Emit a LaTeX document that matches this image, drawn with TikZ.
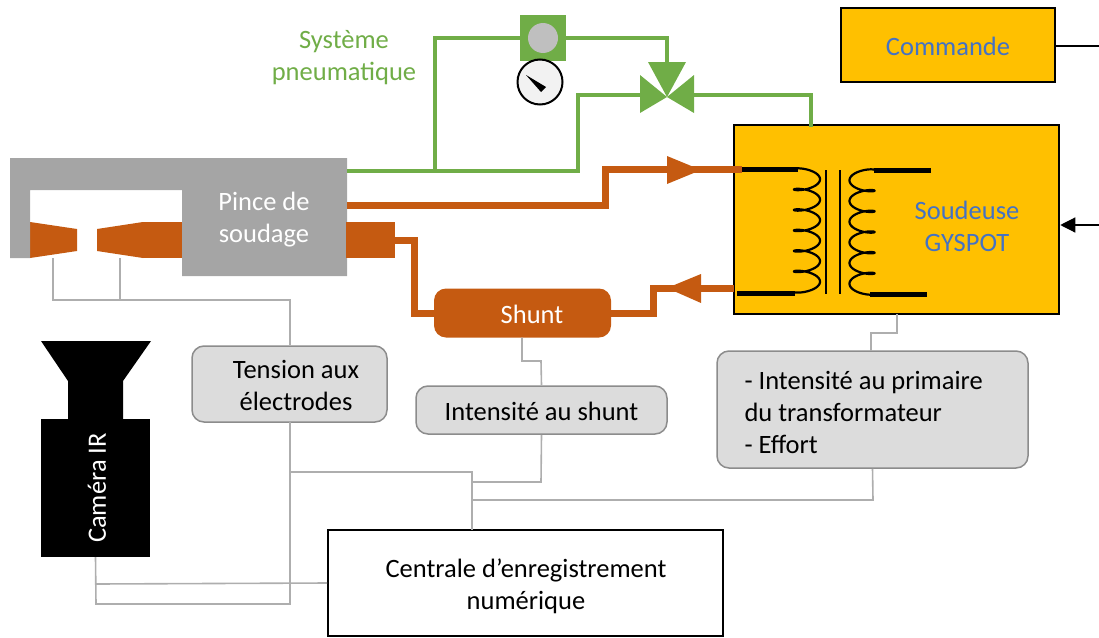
\documentclass[tikz,border=0pt]{standalone}
\usepackage{fontspec}
\setmainfont{Carlito}
\usetikzlibrary{arrows.meta}
\definecolor{gold}{HTML}{FFC000}
\definecolor{rust}{HTML}{C55A11}
\definecolor{leaf}{HTML}{70AD47}
\definecolor{steel}{HTML}{A5A5A5}
\definecolor{txtblue}{HTML}{4472C4}
\definecolor{wire}{HTML}{AEAEAE}
\definecolor{boxgray}{HTML}{DCDCDC}
\definecolor{boxedge}{HTML}{8C8C8C}
\definecolor{dial}{HTML}{F2F2F2}
\definecolor{knob}{HTML}{BFBFBF}
\tikzset{
  goldbox/.style={draw=black, line width=2.5, fill=gold, inner sep=0},
  infobox/.style={draw=boxedge, line width=1.5, fill=boxgray, rounded corners=12, inner sep=0},
  plainbox/.style={draw=black, line width=2, fill=white, inner sep=0},
  wire/.style={draw=wire, line width=1.6},
  pipe/.style={draw=leaf, line width=4},
  current/.style={draw=rust, line width=7},
  lead/.style={draw=black, line width=5},
  coilwire/.style={draw=black, line width=2.2},
}
\begin{document}
\begin{tikzpicture}[x=1pt, y=-1pt, font=\fontsize{26.5}{32}\selectfont]
\useasboundingbox (0,0) rectangle (1099,637);

% ---------- control and welder ----------
\node[goldbox, minimum width=214, minimum height=74] (cmd) at (948,45) {};
\node[text=txtblue] (cmdlbl) at (948,46) {Commande};
\coordinate (cmdout) at (1099,46);
\draw[black, line width=1.2] (cmd.east |- cmdout) -- (cmdout);

\node[goldbox, minimum width=325, minimum height=189] (weld) at (896.5,219.5) {};
\node[text=txtblue, align=center] (weldlbl) at (967,226) {Soudeuse\\GYSPOT};
\coordinate (ctrlin) at (1099,225);
\draw[black, line width=1.2, -{Triangle[length=15,width=15]}] (ctrlin) -- (weld.east |- ctrlin);

% transformer: leads, looped windings and core
\draw[lead] (741,169) -- (798,169);
\draw[lead] (737,293) -- (795,293);
\draw[lead] (874,170) -- (931,170);
\draw[lead] (870,294) -- (927,294);
\draw[coilwire] plot[domain=0:37.699, samples=360, smooth]
  ({807-13*cos(\x r)}, {169+3.26*\x-4.6*sin(\x r)});
\draw[coilwire] plot[domain=0:37.699, samples=360, smooth]
  ({862+12.5*cos(\x r)}, {170+3.29*\x-4.6*sin(\x r)});
\draw[black, line width=2.5] (826,170) -- (826,294);
\draw[black, line width=2.5] (840,170) -- (840,294);

% ---------- welding gun ----------
\fill[rust] (30,222) -- (77,229) -- (77,251) -- (30,258) -- cycle;
\fill[rust] (97,229) -- (143,222) -- (143,258) -- (97,251) -- cycle;
\fill[rust] (143,222) rectangle (183,258);
\fill[steel] (10,158) -- (347,158) -- (347,276) -- (182,276) -- (182,190)
  -- (30,190) -- (30,258) -- (10,258) -- cycle;
\node[text=white, align=center] (pince) at (264,220) {Pince de\\soudage};
\node[fill=rust, minimum width=49, minimum height=36, inner sep=0] (term) at (370.5,240) {};
\coordinate (elecL) at (53,258);
\coordinate (elecR) at (120,258);
\coordinate (pinceAir) at (347,171);
\coordinate (pinceOut) at (347,205);

% ---------- current loop ----------
\node[fill=rust, rounded corners=12, minimum width=177, minimum height=49, inner sep=0] (shunt) at (522.5,313) {};
\node[text=white] (shuntlbl) at (532,314) {Shunt};
\draw[current] (pinceOut) -- (605,205) -- (605,169) -- (742,169);
\fill[rust] (667,156) -- (701,170) -- (667,184) -- cycle;
\draw[current] (734,288) -- (653,288) -- (653,313) -- (shunt.east);
\fill[rust] (701,274) -- (667,288) -- (701,303) -- cycle;
\draw[current] (term.east) -- (414,240) -- (414,313) -- (shunt.west);

% ---------- pneumatic circuit ----------
\node[text=leaf, align=center] (pneu) at (344,58) {Système\\pneumatique};
\node[fill=leaf, minimum size=46, inner sep=0] (reg) at (543,38) {};
\node[circle, fill=knob, minimum size=30, inner sep=0] (regdot) at (543,38) {};
\node[circle, draw=black, line width=2, fill=dial, minimum size=45, inner sep=0] (gauge) at (540,82) {};
\fill[black] (526,75) -- (546,87) -- (541,92) -- cycle;
\coordinate (valve) at (667,97);
\fill[leaf] (640,75) -- (valve) -- (640,113) -- cycle;
\fill[leaf] (694,75) -- (valve) -- (694,113) -- cycle;
\fill[leaf] (648,62) -- (686,62) -- (valve) -- cycle;
\draw[pipe] (pinceAir) -- (578,171) -- (578,95) -- (641,95);
\draw[pipe] (435,171) -- (435,38) -- (reg.west);
\draw[pipe] (reg.east) -- (667,38) -- (667,64);
\draw[pipe] (693,95) -- (811,95) -- (811,127);

% ---------- measurement boxes ----------
\node[infobox, minimum width=195, minimum height=76] (tension) at (289.5,384) {};
\node[align=center] (tensionlbl) at (296,385) {Tension aux\\électrodes};
\node[infobox, minimum width=251, minimum height=48] (ishunt) at (541.5,410) {};
\node (ishuntlbl) at (541.5,411) {Intensité au shunt};
\node[infobox, minimum width=311, minimum height=117] (iprim) at (872.5,409.5) {};
\node[align=left, anchor=west] (iprimlbl) at (741,412) {- Intensité au primaire\\du transformateur\\- Effort};
\node[plainbox, minimum width=395, minimum height=106] (rec) at (525.5,583) {};
\node[align=center] (reclbl) at (526,586) {Centrale d’enregistrement\\numérique};

% ---------- IR camera ----------
\fill[black] (41,341) -- (151,341) -- (123,381) -- (123,420) -- (68,420) -- (68,381) -- cycle;
\node[fill=black, minimum width=109, minimum height=138, inner sep=0] (cam) at (95.5,488) {};
\node[rotate=90, text=white] (camlbl) at (97,488) {Caméra IR};

% ---------- signal wires ----------
\draw[wire] (elecL) -- (53,300) -- (290,300) -- (tension.north -| 290,0);
\draw[wire] (elecR) -- (120,300);
\draw[wire] (290,422) -- (290,604) -- (96,604) -- (cam.south);
\draw[wire] (96,584) -- (rec.west);
\draw[wire] (290,472) -- (472,472) -- (472,530);
\draw[wire] (522,337.5) -- (522,361) -- (541,361) -- (ishunt.north);
\draw[wire] (ishunt.south) -- (541,482) -- (472,482);
\draw[wire] (iprim.south) -- (873,500) -- (472,500);
\draw[wire] (897,314) -- (897,333) -- (871,333) -- (871,351);
\end{tikzpicture}
\end{document}
